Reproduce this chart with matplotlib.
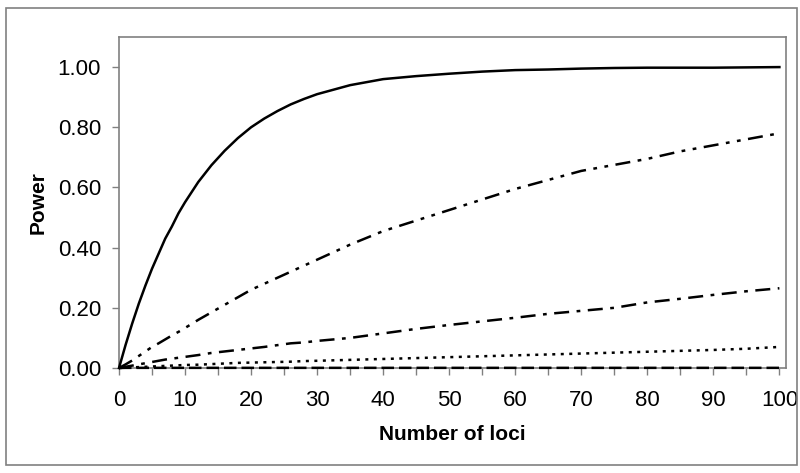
import matplotlib
matplotlib.use("Agg")
import matplotlib.pyplot as plt
from matplotlib.patches import Rectangle
from matplotlib.ticker import FixedLocator, FuncFormatter

plt.rcParams['font.family'] = ['Liberation Sans', 'DejaVu Sans']

loci = [0, 1, 2, 3, 4, 5, 6, 7, 8, 9, 10, 12, 14, 16, 18, 20, 22, 24, 26, 28, 30,
        35, 40, 45, 50, 55, 60, 65, 70, 75, 80, 85, 90, 95, 100]

power_a = [0, 0.077, 0.148, 0.214, 0.274, 0.33, 0.38, 0.43, 0.47, 0.514, 0.551,
           0.618, 0.674, 0.722, 0.764, 0.80, 0.829, 0.854, 0.876, 0.894, 0.91,
           0.94, 0.96, 0.97, 0.978, 0.985, 0.99, 0.992, 0.995, 0.997, 0.998,
           0.998, 0.998, 0.999, 1.0]
power_b = [0, 0.012, 0.025, 0.04, 0.055, 0.07, 0.082, 0.095, 0.108, 0.12, 0.133,
           0.16, 0.185, 0.21, 0.235, 0.26, 0.28, 0.30, 0.32, 0.34, 0.36,
           0.41, 0.455, 0.49, 0.525, 0.56, 0.595, 0.625, 0.655, 0.675, 0.695,
           0.72, 0.74, 0.76, 0.78]
power_c = [0, 0.004, 0.008, 0.012, 0.016, 0.02, 0.024, 0.028, 0.031, 0.034, 0.037,
           0.043, 0.05, 0.055, 0.06, 0.065, 0.07, 0.076, 0.082, 0.085, 0.09,
           0.10, 0.115, 0.13, 0.143, 0.155, 0.167, 0.18, 0.19, 0.20, 0.218,
           0.23, 0.243, 0.255, 0.265]
power_d = [0, 0.001, 0.002, 0.003, 0.004, 0.005, 0.006, 0.007, 0.008, 0.009, 0.01,
           0.011, 0.013, 0.015, 0.017, 0.018, 0.019, 0.020, 0.021, 0.023, 0.024,
           0.027, 0.030, 0.033, 0.036, 0.039, 0.042, 0.045, 0.048, 0.051, 0.054,
           0.057, 0.060, 0.064, 0.070]
power_e = [0, 0.0005, 0.0005, 0.0005, 0.0005, 0.0005, 0.0005, 0.0005, 0.0005, 0.0005, 0.0005,
           0.0005, 0.0005, 0.0005, 0.0005, 0.0005, 0.0005, 0.0005, 0.0005, 0.0005, 0.0005,
           0.0005, 0.0005, 0.0005, 0.0005, 0.0005, 0.0005, 0.0005, 0.0005, 0.0005, 0.0005,
           0.0005, 0.0005, 0.0005, 0.0005]

x_ticklabels = [0, 10, 20, 30, 40, 50, 60, 70, 80, 90, 100]
y_ticks = [0.0, 0.2, 0.4, 0.6, 0.8, 1.0]

fig = plt.figure(figsize=(8.0, 4.73), dpi=100)
fig.patches.append(Rectangle((6/800, 1-465/473), 791/800, 457/473, transform=fig.transFigure,
                             fill=False, edgecolor='#808080', linewidth=1.2))

ax = fig.add_axes([119/800, 1-368/473, (786-119)/800, (368-37)/473])

lw = 1.8
kw = dict(color='black', linewidth=lw, zorder=3, clip_on=False)
ax.plot(loci, power_a, linestyle='-', **kw)
ax.plot(loci, power_b, linestyle=(0, (6, 3, 1.5, 3, 1.5, 3)), **kw)
ax.plot(loci, power_c, linestyle=(0, (6, 3, 1.5, 3)), **kw)
ax.plot(loci, power_d, linestyle=(0, (1.2, 2.2)), **kw)
ax.plot(loci, power_e, linestyle=(0, (5, 2)), **kw)

ax.set_xlim(0, 101)
ax.set_ylim(0, 1.1)
ax.xaxis.set_major_locator(FixedLocator(list(range(0, 101, 5))))
ax.xaxis.set_major_formatter(FuncFormatter(lambda v, p: f"{int(round(v))}" if int(round(v)) in x_ticklabels else ""))
ax.set_yticks(y_ticks)
ax.set_yticklabels([f"{v:.2f}" for v in y_ticks])

for s in ax.spines.values():
    s.set_color('#808080')
    s.set_linewidth(1.2)
ax.tick_params(axis='both', direction='out', length=5, width=1.0, color='#808080',
               labelsize=16, labelcolor='black')
ax.tick_params(axis='x', pad=11)
ax.tick_params(axis='y', pad=8)

ax.set_xlabel('Number of loci', fontsize=15, fontweight='bold', labelpad=10)
ax.set_ylabel('Power', fontsize=15, fontweight='bold', labelpad=7)

fig.savefig('out.png', dpi=100)
